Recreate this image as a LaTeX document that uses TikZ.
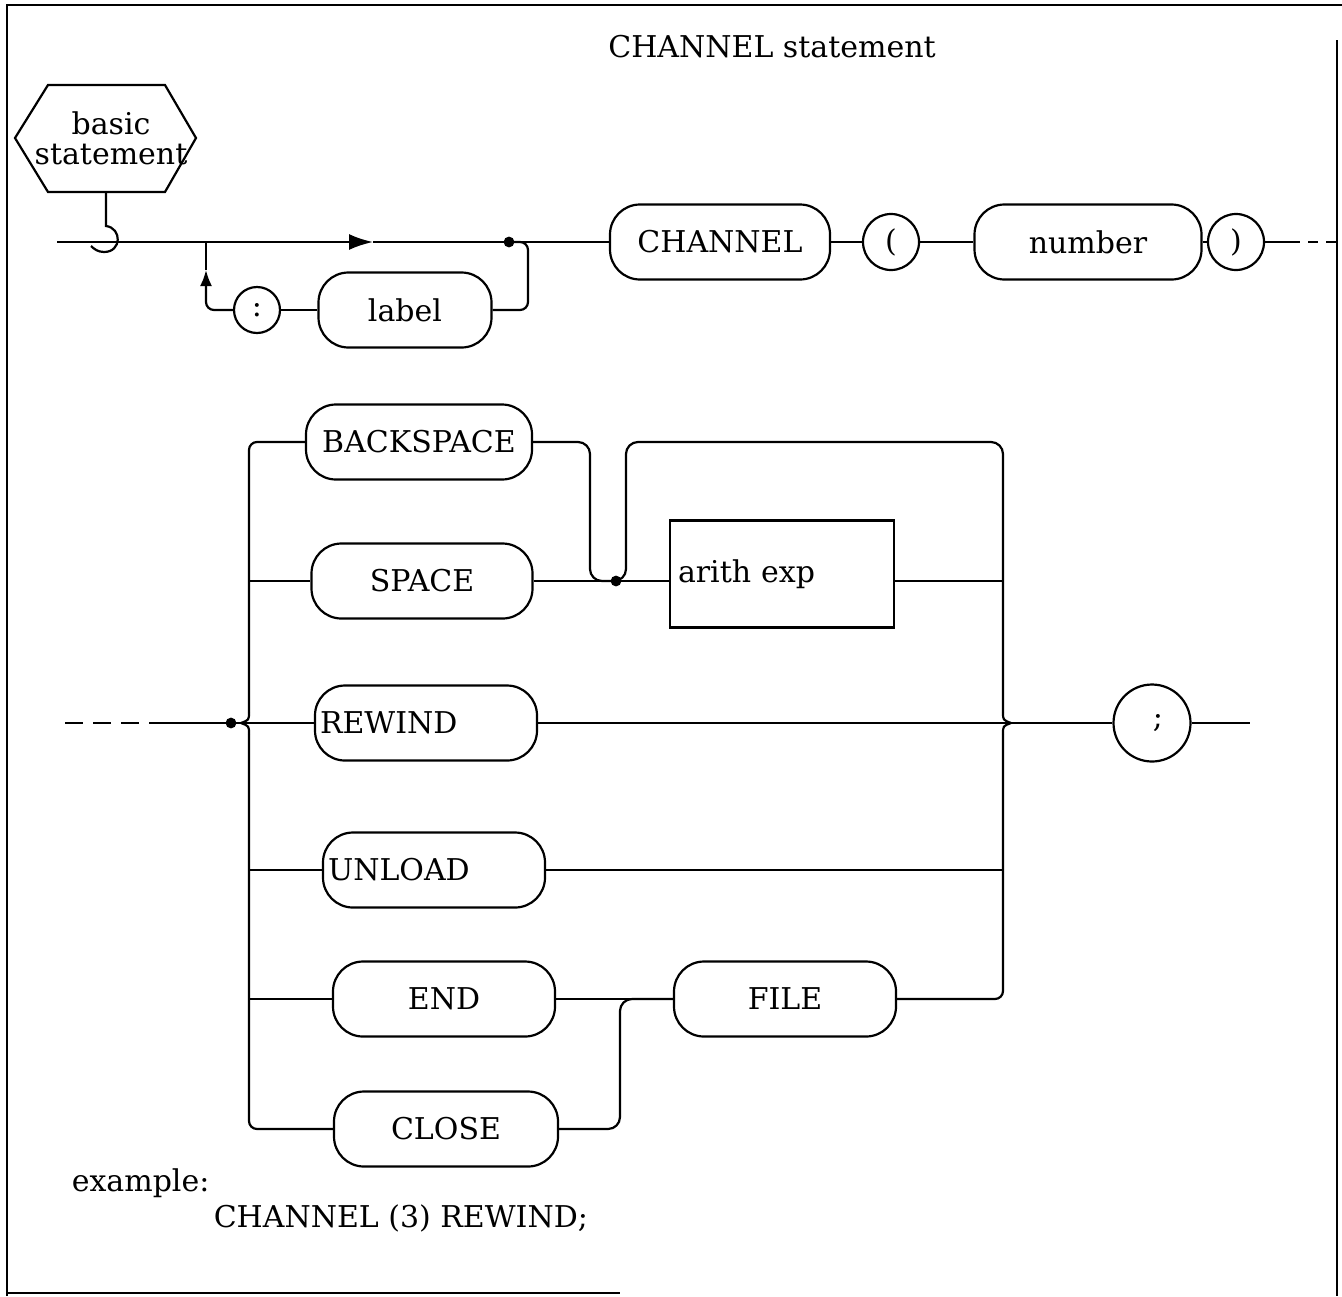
\documentclass[tikz,border=0pt]{standalone}
\usepackage{fontspec}
\setmainfont{DejaVu Serif}
\usepackage{tikz}
\usetikzlibrary{arrows.meta,calc}
\newcommand\dgfont{\fontsize{15}{18}\selectfont}

\begin{document}
\begin{tikzpicture}[x=0.5pt,y=-0.5pt,line width=1.1pt,
  pill/.style={draw,rounded corners=15pt,minimum height=37.5pt,minimum width=111pt,inner xsep=2pt,font=\dgfont},
  pillL/.style={pill,text width=106pt,align=left,inner xsep=1pt},
  term/.style={draw,circle,inner sep=0pt,font=\dgfont},
  box/.style={draw,minimum width=112pt,minimum height=53.5pt,font=\dgfont},
  flow/.style={-{Latex[length=12pt,width=8pt]}},
  flowup/.style={-{Latex[length=8pt,width=6pt]}}
]
\useasboundingbox (0,0) rectangle (1342,1296);
% frame
\draw[line width=1.3pt] (7,1296) -- (7,5) -- (1342,5);
\draw[line width=1.3pt] (1337,40) -- (1337,1296);
\draw[line width=1.3pt] (7,1293) -- (620,1293);

\node[font=\dgfont] (title) at (772,47) {CHANNEL statement};

% basic statement
\node[font=\dgfont,align=center] (basic) at (111,138) {basic\\[-3pt]statement};
\draw (15,138) -- (48,85) -- (165,85) -- (196,138) -- (165,192) -- (48,192) -- cycle;
\coordinate (hexb) at (106,192);
\coordinate (hook) at (106,226);
\draw (hexb) -- (hook) .. controls (122,228) and (122,252) .. (104,252)
  .. controls (98,252) and (94,249) .. (91,246);

% first row
\node[pill,minimum width=110pt] (channel) at (720,242) {CHANNEL};
\node[term,minimum size=28pt] (lpar) at (891,242) {(};
\node[pill,minimum width=113.5pt] (number) at (1088,242) {number};
\node[term,minimum size=28pt] (rpar) at (1236,242) {)};
\node[pill,minimum width=86.5pt] (label) at (405,310) {label};
\node[term,minimum size=23pt] (colon) at (257,310) {:};

\coordinate (entry) at (57,242);
\coordinate (tipR) at (373,242);
\coordinate (split) at (206,242);
\coordinate (merge) at (509,242);
\coordinate (back) at (528,242);
\coordinate (tipU) at (206,270);
\coordinate (cont) at (1290,242);
\coordinate (contEnd) at (1336,242);

\draw[flow] (entry) -- (tipR);
\draw (tipR) -- (channel.west);
\fill (merge) circle[radius=2.7pt];
\draw[rounded corners=4pt] (merge) -- (back) |- (label.east);
\draw (label) -- (colon);
\draw[flowup,rounded corners=4pt] (colon.west) -| (tipU);
\draw (tipU) -- (split);
\draw (channel) -- (lpar);
\draw (lpar) -- (number);
\draw (number) -- (rpar);
\draw (rpar) -- (cont);
\draw[dash pattern=on 5pt off 4pt] (cont) -- (contEnd);

% second part
\node[pill,minimum width=113pt] (backspace) at (419,442) {BACKSPACE};
\node[pill,minimum width=110.5pt] (space) at (422,581) {SPACE};
\node[box,text width=104pt,align=left,inner xsep=4pt] (arith) at (782,574) {arith exp};
\node[pillL] (rewind) at (426,723) {REWIND};
\node[pillL] (unload) at (434,870) {UNLOAD};
\node[pill] (endkw) at (444,999) {END};
\node[pill] (file) at (785,999) {FILE};
\node[pill,minimum width=112pt] (close) at (446,1129) {CLOSE};
\node[term,minimum size=38.5pt] (semi) at (1152,723) {\hspace{6pt};};

\coordinate (lead) at (65,723);
\coordinate (leadEnd) at (152,723);
\coordinate (in) at (231,723);
\coordinate (lbusA) at (249,712);
\coordinate (lbrace) at (241,723);
\coordinate (lbusB) at (249,734);
\coordinate (bsdown) at (590,581);
\coordinate (join) at (616,581);
\coordinate (bypass) at (626,442);
\coordinate (rbusA) at (1003,712);
\coordinate (rbrace) at (1011,723);
\coordinate (rbusB) at (1003,734);
\coordinate (endjoin) at (620,999);
\coordinate (exit) at (1250,723);

% left bus
\draw[dash pattern=on 9pt off 5pt] (lead) -- (leadEnd);
\draw (leadEnd) -- (rewind.west);
\fill (in) circle[radius=2.7pt];
\draw[rounded corners=4pt] (backspace.west) -| (lbusA);
\draw (lbusA) .. controls (249,720) .. (lbrace);
\draw (lbrace) .. controls (249,726) .. (lbusB);
\draw[rounded corners=4pt] (lbusB) |- (close.west);
\draw (lbusA |- space.west) -- (space.west);
\draw (lbusB |- unload.west) -- (unload.west);
\draw (lbusB |- endkw.west) -- (endkw.west);

% arith exp and bypass
\draw[rounded corners=6pt] (backspace.east) -| (bsdown) -- (join);
\draw (space.east) -- (join) -- (join -| arith.west);
\fill (join) circle[radius=2.7pt];
\draw[rounded corners=6pt] (join) -| (bypass) -| (rbusA);
\draw (arith.east |- join) -- (rbusA |- join);

% right bus
\draw (rbusA) .. controls (1003,720) .. (rbrace);
\draw (rbrace) .. controls (1003,726) .. (rbusB);
\draw[rounded corners=4pt] (rbusB) |- (file.east);
\draw (rewind.east) -- (rbrace);
\draw (unload.east) -- (rbusB |- unload.east);
\draw (endkw) -- (file);
\draw[rounded corners=6pt] (close.east) -| (endjoin) -- (file.west);
\draw (rbrace) -- (semi);
\draw (semi) -- (exit);

% example
\node[font=\dgfont,anchor=west] (example) at (64,1183) {example:};
\node[font=\dgfont,anchor=west] (sample) at (206,1218) {CHANNEL (3) REWIND;};
\end{tikzpicture}
\end{document}
